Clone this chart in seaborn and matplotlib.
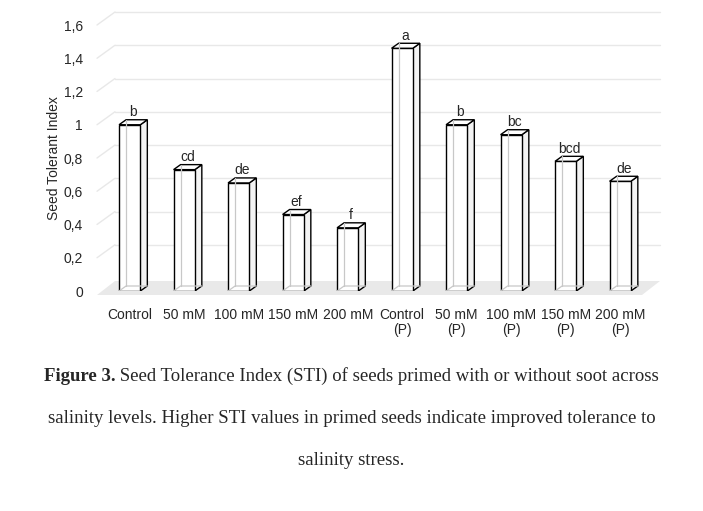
import matplotlib
matplotlib.use("Agg")
import matplotlib.pyplot as plt
from matplotlib.patches import Polygon
import pandas as pd
import seaborn as sns

# data
categories = ["Control", "50 mM", "100 mM", "150 mM", "200 mM",
              "Control\n(P)", "50 mM\n(P)", "100 mM\n(P)", "150 mM\n(P)", "200 mM\n(P)"]
sti = [1.00, 0.73, 0.65, 0.46, 0.38, 1.46, 1.00, 0.94, 0.78, 0.66]
letters = ["b", "cd", "de", "ef", "f", "a", "b", "bc", "bcd", "de"]
yticks = [0, 0.2, 0.4, 0.6, 0.8, 1.0, 1.2, 1.4, 1.6]
ytick_labels = ["0", "0,2", "0,4", "0,6", "0,8", "1", "1,2", "1,4", "1,6"]

sns.set_style("white")
plt.rcParams["font.family"] = ["Liberation Sans", "DejaVu Sans"]

W, H = 703, 511
fig = plt.figure(figsize=(W / 100, H / 100), dpi=100)
ax = fig.add_axes([97 / W, 1 - 291 / H, (642 - 97) / W, (291 - 25) / H])

df = pd.DataFrame({"group": categories, "sti": sti})
sns.barplot(data=df, x="group", y="sti", color="white", edgecolor="black",
            linewidth=1.0, width=0.39, saturation=1, ax=ax, zorder=4)

x0, x1 = -0.6, 9.4
ax.set_xlim(x0, x1)
ax.set_ylim(0, 1.6)

# pixel -> data conversion for the fake 3d depth
px_x = (x1 - x0) / 545.0
px_y = 1.6 / 266.0
bdx, bdy = 7 * px_x, 5 * px_y      # bar depth
wdx, wdy = 18 * px_x, 13 * px_y    # back wall depth

# floor
floor = Polygon([(x0, -4 * px_y), (x1, -4 * px_y), (x1 + wdx, 10 * px_y), (x0 + wdx, 10 * px_y)],
                closed=True, facecolor="#e9e9e9", edgecolor="none", zorder=1, clip_on=False)
ax.add_patch(floor)

# gridlines on the back wall + left wall diagonals
for t in yticks[1:]:
    ax.plot([x0 + wdx, x1 + wdx], [t + wdy, t + wdy], color="#e8e8e8", lw=1, zorder=0, clip_on=False)
    ax.plot([x0, x0 + wdx], [t, t + wdy], color="#e8e8e8", lw=1, zorder=0, clip_on=False)

for p, lab in zip(ax.patches[:len(sti)], letters):
    x, w, h = p.get_x(), p.get_width(), p.get_height()
    side = Polygon([(x + w, 0), (x + w + bdx, bdy), (x + w + bdx, h + bdy), (x + w, h)],
                   closed=True, facecolor="#f3f3f3", edgecolor="black", lw=1.0, zorder=3)
    top = Polygon([(x, h), (x + w, h), (x + w + bdx, h + bdy), (x + bdx, h + bdy)],
                  closed=True, facecolor="white", edgecolor="black", lw=1.0, zorder=5)
    ax.add_patch(side)
    ax.add_patch(top)
    # hidden back edges seen through the bar
    ax.plot([x + bdx, x + bdx], [bdy, h + bdy], color="#c8c8c8", lw=0.9, zorder=6)
    ax.plot([x, x + bdx, x + w + bdx], [0, bdy, bdy], color="#c8c8c8", lw=0.9, zorder=6)
    ax.text(x + w / 2 + bdx / 2, h + bdy + 0.004, lab, ha="center", va="bottom",
            fontsize=10, zorder=7)

ax.set_yticks(yticks)
ax.set_yticklabels(ytick_labels)
ax.tick_params(axis="y", length=0, pad=10, labelsize=10)
ax.tick_params(axis="x", length=0, pad=12, labelsize=10)
for lbl in ax.get_xticklabels():
    lbl.set_linespacing(1.1)
ax.set_xlabel("")
ax.set_ylabel("Seed Tolerant Index", fontsize=10)
ax.yaxis.set_label_coords(-0.066, 0.5)
sns.despine(ax=ax, left=True, bottom=True)
ax.patch.set_alpha(0)

# caption
serif = ["Liberation Serif", "DejaVu Serif"]
fs = 13.5
renderer = fig.canvas.get_renderer()
t_bold = fig.text(0, 1 - 381 / H, "Figure 3.", fontsize=fs, family=serif, weight="bold", va="baseline")
t_rest = fig.text(0, 1 - 381 / H, " Seed Tolerance Index (STI) of seeds primed with or without soot across",
                  fontsize=fs, family=serif, va="baseline")
wb = t_bold.get_window_extent(renderer).width
wr = t_rest.get_window_extent(renderer).width
start = (W - (wb + wr)) / 2
t_bold.set_x(start / W)
t_rest.set_x((start + wb) / W)
fig.text(0.5, 1 - 423 / H, "salinity levels. Higher STI values in primed seeds indicate improved tolerance to",
         fontsize=fs, family=serif, ha="center", va="baseline")
fig.text(0.5, 1 - 465 / H, "salinity stress.", fontsize=fs, family=serif, ha="center", va="baseline")

fig.savefig("out.png", dpi=100, facecolor="white")
